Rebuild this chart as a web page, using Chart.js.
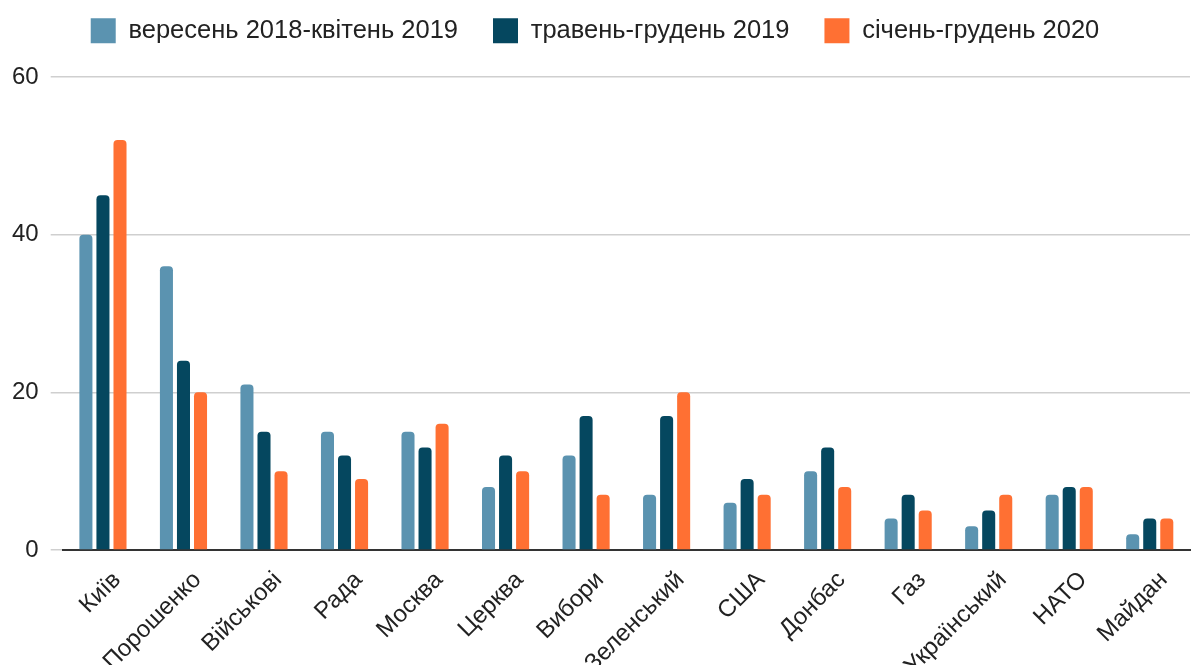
<!DOCTYPE html>
<html lang="uk">
  <head>
    <meta charset="UTF-8" />
    <title>Згадки</title>
    <style>
      html, body { margin: 0; padding: 0; background: #fff; }
      #wrap { width: 1196px; height: 665px; }
    </style>
  </head>
  <body>
    <div id="wrap"><canvas id="chart"></canvas></div>
    <script src="https://cdn.jsdelivr.net/npm/chart.js@4.4.0/dist/chart.umd.min.js"></script>
    <script>
      const categories = ["Київ", "Порошенко", "Військові", "Рада", "Москва", "Церква", "Вибори",
        "Зеленський", "США", "Донбас", "Газ", "Український", "НАТО", "Майдан"];
      const seriesNames = ["вересень 2018-квітень 2019", "травень-грудень 2019", "січень-грудень 2020"];
      const period1 = [40, 36, 21, 15, 15, 8, 12, 7, 6, 10, 4, 3, 7, 2];
      const period2 = [45, 24, 15, 12, 13, 12, 17, 17, 9, 13, 7, 5, 8, 4];
      const period3 = [52, 20, 10, 9, 16, 10, 7, 20, 7, 8, 5, 7, 8, 4];
      const yTicks = [0, 20, 40, 60];

      const colors = ["#5b93b0", "#05475f", "#ff7033"];

      Chart.defaults.font.family = "'Liberation Sans', Arial, sans-serif";
      Chart.defaults.color = "#222";

      // legend box is tall enough to push the plot down, but its row sits higher
      const legendHeight = {
        id: "legendHeight",
        beforeInit(chart) {
          const fit = chart.legend.fit;
          chart.legend.fit = function () {
            fit.bind(this)();
            this.height = 77;
          };
        },
        afterLayout(chart) {
          chart.legend.top -= 17;
        }
      };

      function makeSet(i, data) {
        return {
          label: seriesNames[i],
          data: data,
          backgroundColor: colors[i],
          borderRadius: 4,
          borderSkipped: "bottom",
          categoryPercentage: 0.635,
          barPercentage: 0.765
        };
      }

      new Chart(document.getElementById("chart"), {
        type: "bar",
        data: {
          labels: categories,
          datasets: [makeSet(0, period1), makeSet(1, period2), makeSet(2, period3)]
        },
        options: {
          responsive: true,
          maintainAspectRatio: false,
          animation: false,
          layout: { padding: { left: 0, right: 6, top: 0, bottom: 0 } },
          plugins: {
            legend: {
              position: "top",
              labels: {
                boxWidth: 25,
                boxHeight: 25,
                padding: 35,
                font: { size: 25.5 },
                color: "#222"
              }
            },
            tooltip: { enabled: false }
          },
          scales: {
            x: {
              grid: { display: false },
              border: { display: true, color: "#333", width: 2 },
              ticks: {
                maxRotation: 45,
                minRotation: 45,
                padding: 8,
                labelOffset: 14,
                font: { size: 24 },
                color: "#222"
              },
              afterFit(scale) { scale.height = 115; }
            },
            y: {
              min: 0,
              max: 60,
              afterBuildTicks(scale) {
                scale.ticks = yTicks.map((v) => ({ value: v }));
              },
              border: { display: false },
              grid: { color: "#cfcfcf", lineWidth: 1.5, tickLength: 12 },
              ticks: { padding: 12, font: { size: 24 }, color: "#222" }
            }
          }
        },
        plugins: [legendHeight]
      });
    </script>
  </body>
</html>
